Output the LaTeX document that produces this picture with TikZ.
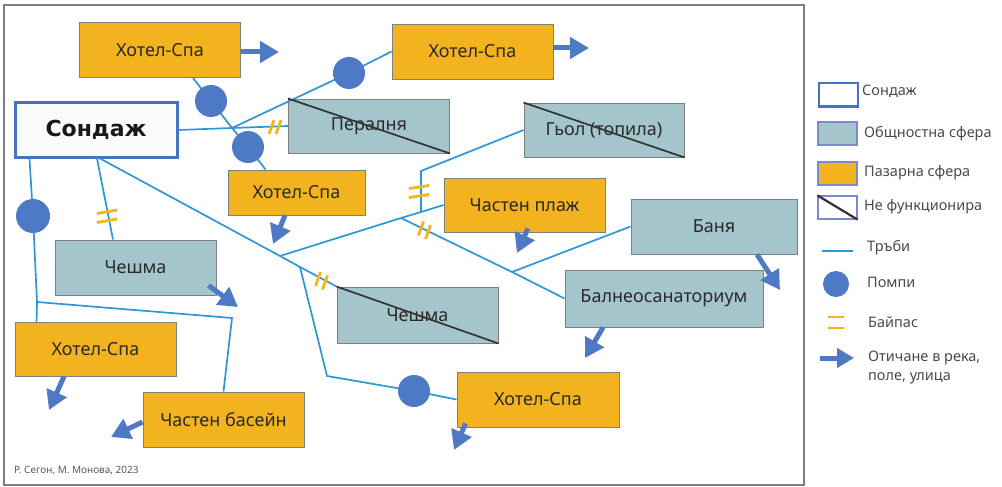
\documentclass[tikz,border=0pt]{standalone}
\usepackage{fontspec}
\setmainfont{Noto Sans}[Script=Cyrillic,Language=Bulgarian]
\newfontfamily\sondfont{DejaVu Sans}[Script=Cyrillic]
\usetikzlibrary{arrows.meta,calc}
\definecolor{orng}{HTML}{F2B31E}
\definecolor{pubcol}{HTML}{A3C5CB}
\definecolor{pipecol}{HTML}{2E97D6}
\definecolor{pumpcol}{HTML}{4E79C5}
\definecolor{bypcol}{HTML}{F5B41A}
\definecolor{bordcol}{HTML}{7F7F7F}
\definecolor{sondcol}{HTML}{4472C4}
\definecolor{legbord}{HTML}{7C89CF}
\definecolor{txtcol}{HTML}{2A2A2A}
\tikzset{
  box/.style={draw=bordcol, line width=0.9pt, inner sep=0pt, minimum width=161pt, minimum height=55pt,
    text=txtcol, font=\fontsize{18}{21}\selectfont},
  mkt/.style={box, fill=orng},
  pub/.style={box, fill=pubcol},
  pipe/.style={draw=pipecol, line width=1.7pt},
  pump/.style={circle, fill=pumpcol, minimum size=32pt, inner sep=0pt},
  flow/.style={draw=pumpcol, line width=5pt, -{Triangle[length=19pt,width=21pt]}},
  byp/.style={draw=bypcol, line width=2.8pt},
  crossln/.style={draw=black!80, line width=1.7pt},
  legtxt/.style={anchor=west, inner sep=0pt, text=txtcol!85, font=\fontsize{14.5}{17}\selectfont},
}
\begin{document}
\begin{tikzpicture}[x=1pt,y=-1pt]
\useasboundingbox (0,0) rectangle (1002,487);
\fill[white] (0,0) rectangle (1002,487);
\draw[bordcol, line width=1.6pt] (4,5) rectangle (804,485);

% box nodes
\node[mkt] (ht1) at (160,50) {Хотел-Спа};
\node[box, fill=black!2, draw=sondcol, line width=3pt, minimum width=162pt, minimum height=54pt,
  font=\sondfont\bfseries\fontsize{22}{26}\selectfont, text=black!90] (sond) at (96,130) {Сондаж};
\node[mkt] (ht2) at (472.5,51.5) {Хотел-Спа};
\node[pub, minimum height=54pt] (peral) at (369,126) {Пералня};
\node[mkt, minimum width=137pt, minimum height=45pt] (ht3) at (296.5,192.5) {Хотел-Спа};
\node[pub, minimum width=160pt, minimum height=54pt] (gyol) at (604,130) {Гьол (топила)};
\node[mkt, minimum height=54pt] (plaj) at (524.5,205) {Частен плаж};
\node[pub, minimum width=166pt] (banya) at (714,226.5) {Баня};
\node[pub, minimum width=198pt, minimum height=57pt] (balneo) at (664,298.5) {Балнеосанаториум};
\node[pub] (chesh1) at (135.5,267.5) {Чешма};
\node[pub, minimum height=56pt] (chesh2) at (417.5,315) {Чешма};
\node[mkt, minimum height=54pt] (ht4) at (95.5,349) {Хотел-Спа};
\node[mkt] (basein) at (223.5,419.5) {Частен басейн};
\node[mkt, minimum width=162pt] (ht5) at (538,399.5) {Хотел-Спа};

% junctions and bends
\coordinate (J0) at (232,128);
\coordinate (J1) at (280,256);
\coordinate (J2) at (300,267);
\coordinate (J3) at (401,218);
\coordinate (J4) at (421,212);
\coordinate (J5) at (512,272);
\coordinate (J6) at (37,302);
\coordinate (K1) at (327,376);
\coordinate (K2) at (232,318);
\coordinate (K3) at (421,171);
\coordinate (p1) at (211,101);
\coordinate (p2) at (248,147);
\coordinate (p3) at (349,73);
\coordinate (p4) at (33,216);
\coordinate (p5) at (414,391);

% pipes
\draw[pipe] ($(ht1.south)+(33,0)$) -- (p1) -- (J0) -- (p2) -- ($(ht3.north)+(-31,0)$);
\draw[pipe] (sond.east) -- (J0) -- (peral.west);
\draw[pipe] (J0) -- (p3) -- (ht2.west);
\draw[pipe] ($(sond.south)+(1,0)$) -- ($(chesh1.north)+(-22.5,0)$);
\draw[pipe] ($(sond.south)+(4,0)$) -- (J1) -- (J2) -- (chesh2.north west);
\draw[pipe] (J1) -- (J3) -- (J4) -- (plaj.west);
\draw[pipe] (J4) -- (K3) -- (gyol.west);
\draw[pipe] (J3) -- (J5) -- (balneo.west);
\draw[pipe] (J5) -- (banya.west);
\draw[pipe] (J2) -- (K1) -- (p5) -- (ht5.west);
\draw[pipe] ($(sond.south west)+(16,0)$) -- (p4) -- (J6) -- ($(ht4.north west)+(22,0)$);
\draw[pipe] (J6) -- (K2) -- (basein.north);

% crossed-out (not functioning)
\draw[crossln] (peral.north west) -- (peral.south east);
\draw[crossln] (gyol.north west) -- (gyol.south east);
\draw[crossln] (chesh2.north west) -- (chesh2.south east);

% pumps
\node[pump] (P1) at (p1) {};
\node[pump] (P2) at (p2) {};
\node[pump] (P3) at (p3) {};
\node[pump, minimum size=34pt] (P4) at (p4) {};
\node[pump] (P5) at (p5) {};

% bypasses
\coordinate (b1) at (275,127);
\draw[byp] ($(b1)+(-6,7)$) -- ++(5,-14);
\draw[byp] ($(b1)+(1,7)$) -- ++(5,-14);
\coordinate (b2) at (107,216);
\draw[byp] ($(b2)+(-10,-2.5)$) -- ++(20,-3.5);
\draw[byp] ($(b2)+(-10,6.5)$) -- ++(20,-3.5);
\coordinate (b3) at (421,191);
\draw[byp] ($(b3)+(-12,-2.5)$) -- ++(20,-3);
\draw[byp] ($(b3)+(-12,6.5)$) -- ++(20,-3);
\coordinate (b4) at (425,230);
\draw[byp] ($(b4)+(-6.5,5.5)$) -- ++(5,-14);
\draw[byp] ($(b4)+(0.5,9)$) -- ++(5,-14);
\coordinate (b5) at (322,281);
\draw[byp] ($(b5)+(-6.5,5)$) -- ++(5,-14);
\draw[byp] ($(b5)+(0.5,8.5)$) -- ++(5,-14);

% outflows
\coordinate (f1) at (279,52);
\coordinate (f2) at (589,48);
\coordinate (f3) at (273,244);
\coordinate (f4) at (517,253);
\coordinate (f5) at (780,290);
\coordinate (f6) at (585,358);
\coordinate (f7) at (238,307);
\coordinate (f8) at (49,410);
\coordinate (f9) at (111,437);
\coordinate (f10) at (454,450);
\draw[flow] (ht1.east |- f1) -- (f1);
\draw[flow] (ht2.east |- f2) -- (f2);
\draw[flow] ($(ht3.south)+(-11.5,0)$) -- (f3);
\draw[flow] ($(plaj.south)+(3.5,-4)$) -- (f4);
\draw[flow] ($(banya.south)+(43,0)$) -- (f5);
\draw[flow] ($(balneo.south)+(-61,0)$) -- (f6);
\draw[flow] ($(chesh1.south east)+(-8,-10)$) -- (f7);
\draw[flow] ($(ht4.south)+(-31.5,0)$) -- (f8);
\draw[flow] (basein.west |- 0,422) -- (f9);
\draw[flow] ($(ht5.south west)+(9,-4)$) -- (f10);

% credit
\node[anchor=west, inner sep=0pt, text=black!65, font=\fontsize{10}{12}\selectfont] (credit) at (14,471) {Р. Сегон, М. Монова, 2023};

% legend
\node[draw=sondcol, line width=2pt, fill=white, minimum width=39pt, minimum height=23pt, inner sep=0pt] (lg1) at (838,95) {};
\node[legtxt] (lt1) at (862,91) {Сондаж};
\node[draw=legbord, line width=1.2pt, fill=pubcol, minimum width=39pt, minimum height=23pt, inner sep=0pt] (lg2) at (837.5,133.5) {};
\node[legtxt] (lt2) at (864,134) {Общностна сфера};
\node[draw=legbord, line width=1.2pt, fill=orng, minimum width=39pt, minimum height=23pt, inner sep=0pt] (lg3) at (837.5,173.5) {};
\node[legtxt] (lt3) at (864,173) {Пазарна сфера};
\node[draw=legbord, line width=1.2pt, fill=white, minimum width=39pt, minimum height=23pt, inner sep=0pt] (lg4) at (837.5,207.5) {};
\draw[crossln, line width=2.2pt] (lg4.north west) -- (lg4.south east);
\node[legtxt] (lt4) at (864,207) {Не функционира};
\coordinate (lp1) at (822,251);
\coordinate (lp2) at (853,251);
\draw[pipe] (lp1) -- (lp2);
\node[legtxt] (lt5) at (867,248) {Тръби};
\node[pump, minimum size=26pt] (lg6) at (836,284) {};
\node[legtxt] (lt6) at (867,282) {Помпи};
\coordinate (lb) at (836,322.5);
\draw[byp] ($(lb)+(-8,-5.5)$) -- ++(16,0);
\draw[byp] ($(lb)+(-8,5.5)$) -- ++(16,0);
\node[legtxt] (lt7) at (868,322) {Байпас};
\coordinate (la1) at (820,358);
\coordinate (la2) at (854,358);
\draw[flow, -{Triangle[length=17pt,width=19pt]}] (la1) -- (la2);
\node[legtxt] (lt8) at (868,358) {Отичане в река,};
\node[legtxt] (lt9) at (868,378) {поле, улица};
\end{tikzpicture}
\end{document}
